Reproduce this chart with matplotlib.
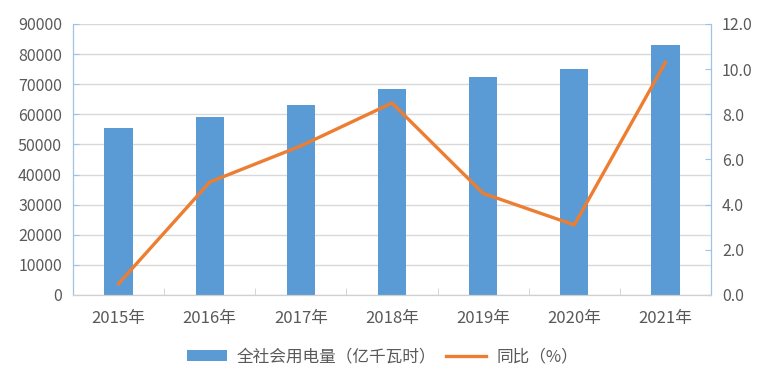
import numpy as np
import matplotlib.pyplot as plt

plt.rcParams['font.family'] = ['Noto Sans CJK SC', 'DejaVu Sans']

years = ['2015年', '2016年', '2017年', '2018年', '2019年', '2020年', '2021年']
usage = [55500, 59198, 63077, 68449, 72255, 75110, 83128]
growth = [0.5, 5.0, 6.6, 8.5, 4.5, 3.1, 10.3]

bar_color = '#5B9BD5'
line_color = '#ED7D31'
text_color = '#595959'
spine_blue = '#9DC3E6'

fig = plt.figure(figsize=(7.74, 3.9), dpi=100)
ax = fig.add_axes([0.0943, 0.2436, 0.8243, 0.695])
x = np.arange(len(years))

ax.bar(x, usage, width=0.31, color=bar_color, zorder=2, label='全社会用电量（亿千瓦时）')
ax.set_xlim(-0.5, len(years) - 0.5)
ax.set_ylim(0, 90000)
ax.set_yticks(np.arange(0, 90001, 10000))
ax.grid(axis='y', color='#D9D9D9', linewidth=1, zorder=0)
ax.set_axisbelow(True)

ax.set_xticks(x)
ax.set_xticklabels(years)
ax.set_xticks(np.arange(-0.5, len(years), 1), minor=True)
ax.tick_params(axis='x', which='major', length=0, pad=11, labelsize=12, labelcolor=text_color)
ax.tick_params(axis='x', which='minor', direction='in', length=5, color='#D0D0D0')
ax.tick_params(axis='y', direction='in', length=4, color=spine_blue, labelsize=11.5,
               labelcolor=text_color, pad=8)

ax2 = ax.twinx()
ax2.plot(x, growth, color=line_color, linewidth=2.4, zorder=3, label='同比（%）')
ax2.set_ylim(0, 12)
ax2.set_yticks(np.arange(0, 12.1, 2))
ax2.set_yticklabels([f'{v:.1f}' for v in np.arange(0, 12.1, 2)])
ax2.tick_params(axis='y', direction='in', length=4, color=spine_blue, labelsize=11.5,
                labelcolor=text_color, pad=8)

for a in (ax, ax2):
    a.spines['top'].set_visible(False)
    a.spines['left'].set_color(spine_blue)
    a.spines['right'].set_color(spine_blue)
    a.spines['bottom'].set_color('#D0D0D0')

h1, l1 = ax.get_legend_handles_labels()
h2, l2 = ax2.get_legend_handles_labels()
fig.legend(h1 + h2, l1 + l2, loc='center', bbox_to_anchor=(0.494, 0.085), ncol=2,
           frameon=False, fontsize=12, labelcolor=text_color, handlelength=2.4,
           columnspacing=0.6, handletextpad=0.6)

fig.savefig('out.png', dpi=100)
